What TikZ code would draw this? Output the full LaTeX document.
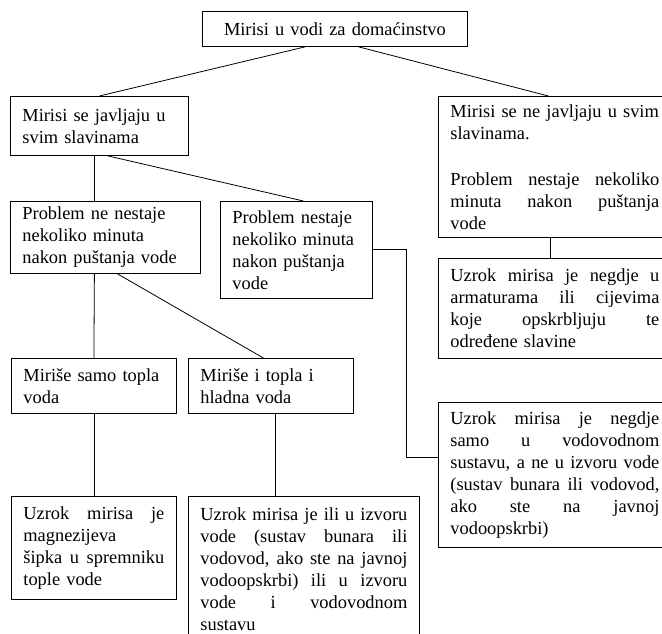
\documentclass[tikz,border=0pt]{standalone}
\usepackage{fontspec}
\setmainfont{Liberation Serif}
\usetikzlibrary{positioning,calc}

\newcommand{\pl}[1]{\leavevmode\hbox to\hsize{\spaceskip=0pt\xspaceskip=0pt\relax #1}}

\tikzset{okvir/.code 2 args={%
    \pgfmathsetmacro\sirinaokvira{#1*0.75}%
    \pgfmathsetmacro\sirinateksta{(#1-24)*0.75}%
    \pgfmathsetmacro\visinaokvira{#2*0.75}%
    \edef\postavi{\noexpand\pgfkeysalso{minimum width=\sirinaokvira pt,text width=\sirinateksta pt,minimum height=\visinaokvira pt}}\postavi}}

\begin{document}
\begin{tikzpicture}[x=0.75pt,y=-0.75pt,
    kutija/.style={draw,line width=0.6pt,anchor=north west,inner xsep=9pt,inner ysep=2pt,align=left,font=\fontsize{13.8}{16.5}\selectfont},
    veza/.style={line width=0.6pt}]
        \useasboundingbox (0,0) rectangle (662,634);
        \clip (0,0) rectangle (662,634);

        \node [kutija,okvir={265}{35},align=center] (vrh) at (202,11) {Mirisi u vodi za domaćinstvo};
        \node [kutija,okvir={178}{59}] (sve) at (10,96) {Mirisi se javljaju u\\svim slavinama};
        \node [kutija,okvir={233}{141}] (nesve) at (438,96) {Mirisi se ne javljaju u svim\\slavinama.\\[18pt]\pl{Problem nestaje nekoliko}\\\pl{minuta nakon puštanja}\\vode};
        \node [kutija,okvir={190}{72}] (ne) at (10,201) {Problem ne nestaje\\nekoliko minuta\\nakon puštanja vode};
        \node [kutija,okvir={152}{97}] (da) at (220,201) {Problem nestaje\\nekoliko minuta\\nakon puštanja\\vode};
        \node [kutija,okvir={233}{100}] (armature) at (438,258) {\pl{Uzrok mirisa je negdje u}\\\pl{armaturama ili cijevima}\\\pl{koje opskrbljuju te}\\određene slavine};
        \node [kutija,okvir={165}{55}] (topla) at (11,358) {Miriše samo topla\\voda};
        \node [kutija,okvir={165}{55}] (obje) at (188,358) {Miriše i topla i\\hladna voda};
        \node [kutija,okvir={233}{145}] (vodovod) at (438,402) {\pl{Uzrok mirisa je negdje}\\\pl{samo u vodovodnom}\\\pl{sustavu, a ne u izvoru vode}\\\pl{(sustav bunara ili vodovod,}\\\pl{ako ste na javnoj}\\vodoopskrbi)};
        \node [kutija,okvir={165}{103}] (sipka) at (11,496) {\pl{Uzrok mirisa je}\\magnezijeva\\\pl{šipka u spremniku}\\tople vode};
        \node [kutija,okvir={231}{146}] (izvor) at (188,496) {\pl{Uzrok mirisa je ili u izvoru}\\\pl{vode (sustav bunara ili}\\\pl{vodovod, ako ste na javnoj}\\\pl{vodoopskrbi) ili u izvoru}\\\pl{vode i vodovodnom}\\sustavu};

        \coordinate (zavoj) at (406,457);

        \draw [veza] ($(vrh.south)+(-29.5,0)$) -- (sve.north);
        \draw [veza] ($(vrh.south)+(23.5,0)$) -- ($(nesve.north)+(-6.5,0)$);
        \draw [veza] ($(sve.south)+(-5,0)$) -- ($(ne.north)+(-11,0)$);
        \draw [veza] ($(sve.south)+(8,0)$) -- ($(da.north)+(7,0)$);
        \draw [veza] ($(nesve.south)+(-4.5,0)$) -- ($(armature.north)+(-4.5,0)$);
        \draw [veza] (da.east) -| (zavoj) -- (zavoj -| vodovod.west);
        \draw [veza] ($(ne.south)+(-11,0)$) -- (topla.north);
        \draw [veza] ($(ne.south)+(12,0)$) -- ($(obje.north)+(-7.5,0)$);
        \draw [veza] (topla.south) -- (sipka.north);
        \draw [veza] ($(obje.south)+(4.5,0)$) -- ($(izvor.north)+(-28.5,0)$);
      \end{tikzpicture}
\end{document}
